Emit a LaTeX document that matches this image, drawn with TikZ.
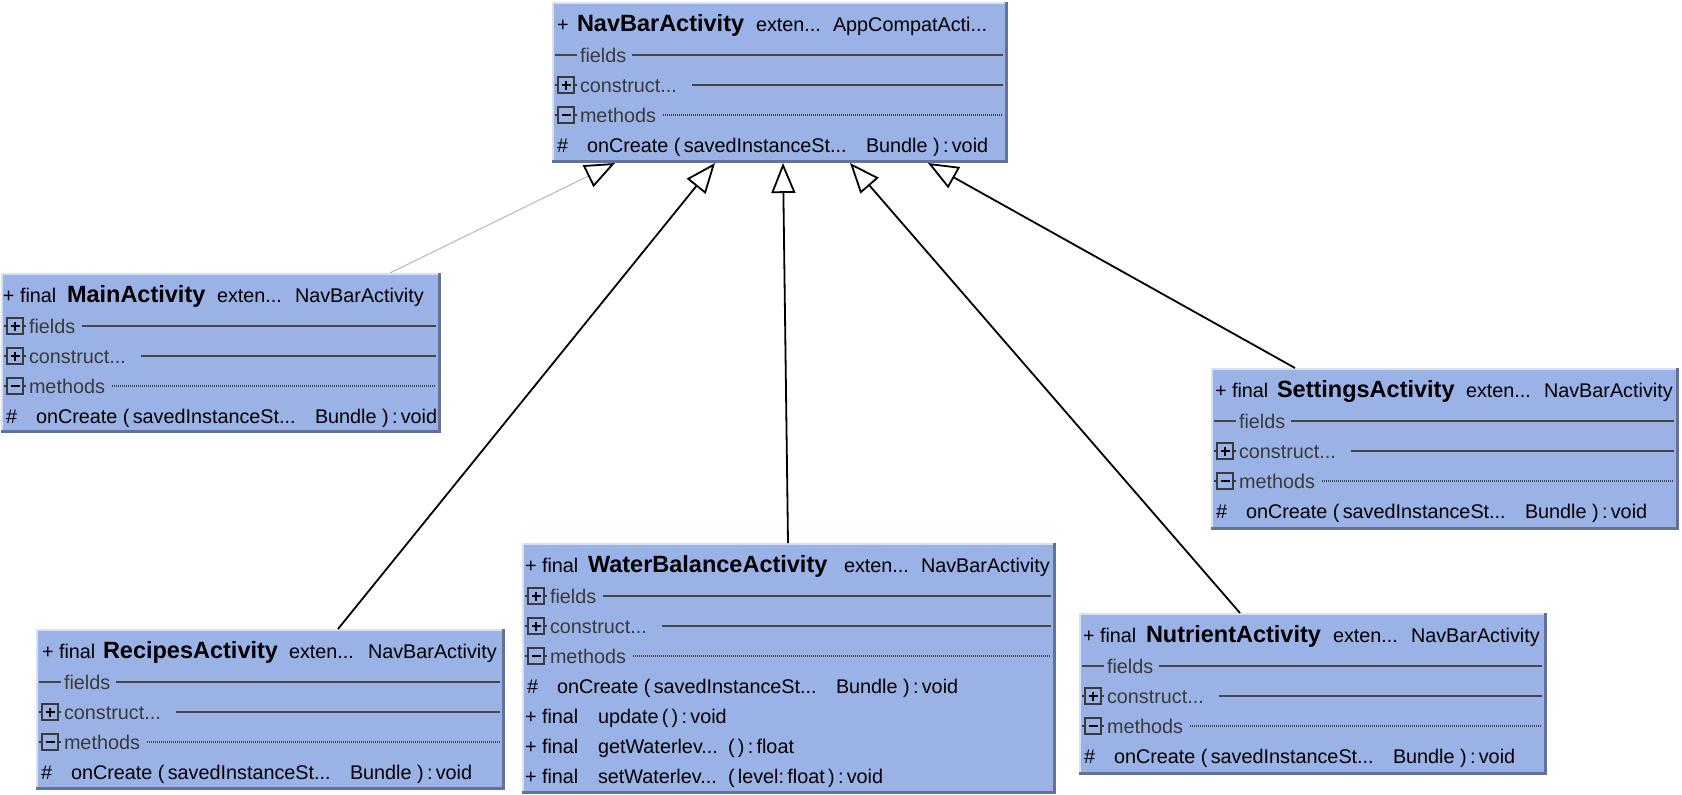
\documentclass[tikz,border=0pt]{standalone}
\usepackage{fontspec}
\setmainfont{Liberation Sans}
\usetikzlibrary{arrows.meta,calc}
\definecolor{boxfill}{RGB}{155,178,230}
\definecolor{boxdark}{RGB}{100,114,152}
\definecolor{boxlight}{RGB}{214,224,246}
\definecolor{secgray}{RGB}{58,58,58}
\definecolor{rulegray}{RGB}{70,70,70}
\definecolor{connlight}{RGB}{192,192,192}

\newcommand\rfont{\fontsize{9.9pt}{11pt}\selectfont}
\newcommand\bfnt{\fontsize{11.75pt}{13pt}\selectfont\bfseries}

\tikzset{
 umlbox/.style={fill=boxfill, draw=none, inner sep=0pt, outer sep=0pt, anchor=north west},
 txt/.style={inner sep=0pt, outer sep=0pt, anchor=base west, font=\rfont, text=black},
 boldtxt/.style={txt, font=\bfnt},
 seclabel/.style={txt, text=secgray},
 secrule/.style={draw=rulegray, line width=1pt},
 secdot/.style={draw=rulegray, line width=0.6pt, dash pattern=on 0.5pt off 0.5pt},
 iconbox/.style={draw=secgray, line width=0.8pt, minimum size=7.8pt, inner sep=0pt, outer sep=0pt, fill=boxfill},
 inherit/.style={line width=0.9pt, -{Triangle[open, length=15pt, width=12pt, line width=0.9pt, color=black]}},
}

% frame: name L T R B
\newcommand\umlframe[5]{%
 \node[umlbox, minimum width={(#4-#2)*0.5pt}, minimum height={(#5-#3)*0.5pt}] (#1) at (#2,#3) {};
 \draw[boxlight, line width=1pt] ($(#1.south west)+(1,0)$) -- ($(#1.north west)+(1,1)$) -- ($(#1.north east)+(0,1)$);
 \draw[boxdark, line width=1.5pt] ($(#1.south west)+(0,-1.5)$) -- ($(#1.south east)+(-1.5,-1.5)$) -- ($(#1.north east)+(-1.5,0)$);
}
% icon: name L y sign(1 plus, 0 minus)
\newcommand\uicon[4]{%
 \draw[draw=secgray, line width=0.7pt] (#2+3,#3) -- (#2+25,#3);
 \node[iconbox] (#1) at (#2+14,#3) {};
 \draw[black, line width=1pt] (#2+9.5,#3) -- (#2+18.5,#3);
 \ifnum#4=1 \draw[black, line width=1pt] (#2+14,#3-4.5) -- (#2+14,#3+4.5);\fi
}
% rows: id L R y
\newcommand\rowfieldsdash[4]{%
 \draw[secrule] (#2+3,#4) -- (#2+25,#4);
 \node[seclabel] (#1fl) at (#2+28,#4+7) {fields};
 \draw[secrule] ($(#1fl.base east)+(6,-7)$) -- (#3-5,#4);
}
\newcommand\rowfieldsplus[4]{%
 \uicon{#1fi}{#2}{#4}{1}
 \node[seclabel] (#1fl) at (#2+28,#4+7) {fields};
 \draw[secrule] ($(#1fl.base east)+(7,-7)$) -- (#3-5,#4);
}
\newcommand\rowconstruct[4]{%
 \uicon{#1ci}{#2}{#4}{1}
 \node[seclabel] (#1cl) at (#2+28,#4+7) {construct...};
 \draw[secrule] ($(#1cl.base east)+(15,-7)$) -- (#3-5,#4);
}
\newcommand\rowmethods[4]{%
 \uicon{#1mi}{#2}{#4}{0}
 \node[seclabel] (#1ml) at (#2+28,#4+7) {methods};
 \draw[secdot] ($(#1ml.base east)+(7,-7)$) -- (#3-6,#4);
}
% onCreate row: id L y
\newcommand\rowoncreate[3]{%
 \node[txt] (#1oh) at (#2+5,#3+7) {\#};
 \node[txt] (#1oc) at (#2+35,#3+7) {onCreate (\,savedInstanceSt...};
 \node[txt] (#1ob) at (#2+314,#3+7) {Bundle )\,:\,void};
}
% header: id y(baseline) x1 prefix x2 name x3 x4 parent
\newcommand\uhead[9]{%
 \node[txt] (#1hp) at (#3,#2) {#4};
 \node[boldtxt] (#1hn) at (#5,#2) {#6};
 \node[txt] (#1he) at (#7,#2) {exten...};
 \node[txt] (#1hx) at (#8,#2) {#9};
}

\begin{document}
\begin{tikzpicture}[x=0.5pt,y=-0.5pt]
\useasboundingbox (0,0) rectangle (1682,794);

% ---------- NavBarActivity ----------
\umlframe{nav}{552}{2}{1008}{163}
\uhead{nav}{31}{557}{+}{577}{NavBarActivity}{756}{833}{AppCompatActi...}
\rowfieldsdash{nav}{552}{1008}{55}
\rowconstruct{nav}{552}{1008}{85}
\rowmethods{nav}{552}{1008}{115}
\rowoncreate{nav}{552}{145}

% ---------- MainActivity ----------
\umlframe{main}{1}{273}{441}{433}
\uhead{main}{302}{3}{+ final}{67}{MainActivity}{217}{295}{NavBarActivity}
\rowfieldsplus{main}{1}{441}{326}
\rowconstruct{main}{1}{441}{356}
\rowmethods{main}{1}{441}{386}
\rowoncreate{main}{1}{416}

% ---------- SettingsActivity ----------
\umlframe{set}{1211}{368}{1679}{530}
\uhead{set}{397}{1215}{+ final}{1277}{SettingsActivity}{1466}{1544}{NavBarActivity}
\rowfieldsdash{set}{1211}{1679}{421}
\rowconstruct{set}{1211}{1679}{451}
\rowmethods{set}{1211}{1679}{481}
\rowoncreate{set}{1211}{511}

% ---------- RecipesActivity ----------
\umlframe{rec}{36}{629}{505}{790}
\uhead{rec}{658}{42}{+ final}{103}{RecipesActivity}{289}{368}{NavBarActivity}
\rowfieldsdash{rec}{36}{505}{682}
\rowconstruct{rec}{36}{505}{712}
\rowmethods{rec}{36}{505}{742}
\rowoncreate{rec}{36}{772}

% ---------- WaterBalanceActivity ----------
\umlframe{wat}{522}{543}{1056}{794}
\uhead{wat}{572}{525}{+ final}{588}{WaterBalanceActivity}{844}{921}{NavBarActivity}
\rowfieldsplus{wat}{522}{1056}{596}
\rowconstruct{wat}{522}{1056}{626}
\rowmethods{wat}{522}{1056}{656}
\rowoncreate{wat}{522}{686}
\node[txt] (watm1p) at (525,723) {+ final};
\node[txt] (watm1n) at (598,723) {update\,(\,)\,:\,void};
\node[txt] (watm2p) at (525,753) {+ final};
\node[txt] (watm2n) at (598,753) {getWaterlev...};
\node[txt] (watm2s) at (728,753) {(\,)\,:\,float};
\node[txt] (watm3p) at (525,783) {+ final};
\node[txt] (watm3n) at (598,783) {setWaterlev...};
\node[txt] (watm3s) at (728,783) {(\,level:\,float\,)\,:\,void};

% ---------- NutrientActivity ----------
\umlframe{nut}{1079}{613}{1547}{775}
\uhead{nut}{642}{1083}{+ final}{1146}{NutrientActivity}{1333}{1411}{NavBarActivity}
\rowfieldsdash{nut}{1079}{1547}{666}
\rowconstruct{nut}{1079}{1547}{696}
\rowmethods{nut}{1079}{1547}{726}
\rowoncreate{nut}{1079}{756}

% ---------- inheritance connectors ----------
\draw[inherit, draw=connlight, line width=0.6pt] ($(main.north west)+(389,0)$) -- ($(nav.south west)+(63,0)$);
\draw[inherit] ($(rec.north west)+(302,0)$) -- ($(nav.south west)+(163,0)$);
\draw[inherit] ($(wat.north west)+(266,0)$) -- ($(nav.south west)+(231,0)$);
\draw[inherit] ($(nut.north west)+(161,0)$) -- ($(nav.south west)+(298,0)$);
\draw[inherit] ($(set.north west)+(84,0)$) -- ($(nav.south west)+(376,0)$);
\end{tikzpicture}
\end{document}
